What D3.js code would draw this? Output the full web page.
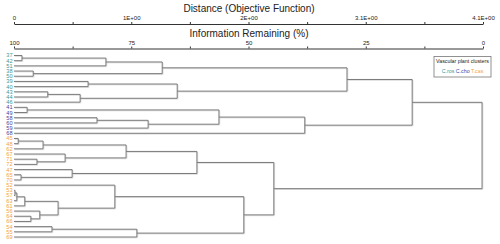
<!DOCTYPE html>
<html>
<head>
<meta charset="utf-8">
<script src="https://cdn.jsdelivr.net/npm/d3@7"></script>
<style>
  body { margin: 0; background: #fff; }
  text { font-family: "Liberation Sans", Arial, sans-serif; }
</style>
</head>
<body>
<svg id="chart" width="500" height="244"></svg>
<script>
// leaves, top to bottom
var leaves = ["37","42","51","38","50","39","40","43","44","46",
  "41","49","58","60","59","68",
  "45","48","62","67","71","72","47","65","70","52","53","57","63","61","56","64","66","54","55","69"];
var cRos = ["37","42","51","38","50","39","40","43","44","46"];
var cCho = ["41","49","58","60","59","68"];
var tCas = ["45","48","62","67","71","72","47","65","70","52","53","57","63","61","56","64","66","54","55","69"];

// merges: [left, right, information remaining %]
var merges = [
  ["37","42",98.3], ["m0","51",80.4], ["38","50",95.9], ["m1","m2",68.4],
  ["39","40",84.2], ["43","44",92.8], ["m5","46",85.9], ["m4","m6",65.2],
  ["m3","m7",29.0], ["41","49",97.2], ["58","60",82.3], ["m10","59",71.4],
  ["m9","m11",56.3], ["m12","68",38.0], ["m8","m13",15.1],
  ["45","48",99.1], ["m15","62",93.8], ["71","72",95.1], ["67","m17",89.1],
  ["m16","m18",76.1], ["65","70",98.5], ["47","m20",87.6], ["m19","m21",61.0],
  ["53","57",99.8], ["m23","63",99.4], ["m24","61",97.7], ["64","66",96.4],
  ["56","m26",94.5], ["m25","m27",90.6], ["52","m28",78.5], ["54","55",91.9],
  ["m30","69",73.8], ["m29","m31",51.0], ["m22","m32",44.6], ["m14","m33",0.2]
];

var distTicks = ["0","","1E+00","","2E+00","","3.1E+00","","4.1E+00"];
var infoTicks = ["100","","75","","50","","25","","0"];
var distMax = 4.1;

var svg = d3.select("#chart");
var x = d3.scaleLinear().domain([100, 0]).range([14, 483]);
var xd = d3.scaleLinear().domain([0, distMax]).range([14, 483]);
var y = d3.scalePoint().domain(leaves).range([55.5, 237]);

var color = function(l) {
  if (cRos.indexOf(l) >= 0) return "#3a9898";
  if (cCho.indexOf(l) >= 0) return "#45459f";
  return "#f2a43a";
};

// top axis: distance
var distAxis = d3.axisTop(xd)
  .tickValues(d3.range(9).map(function(i) { return i * distMax / 8; }))
  .tickSize(2).tickSizeOuter(0)
  .tickFormat(function(d, i) { return distTicks[i]; });
var ga = svg.append("g").attr("transform", "translate(0,24)").call(distAxis);

var infoAxis = d3.axisTop(x)
  .tickValues(d3.range(9).map(function(i) { return 100 - i * 12.5; }))
  .tickSize(2).tickSizeOuter(0)
  .tickFormat(function(d, i) { return infoTicks[i]; });
var gb = svg.append("g").attr("transform", "translate(0,48.5)").call(infoAxis);

[ga, gb].forEach(function(g) {
  g.select(".domain").attr("stroke", "#333");
  g.selectAll(".tick line").attr("stroke", "#333");
  g.selectAll(".tick text").attr("font-size", 6).attr("fill", "#222")
    .attr("y", -3.6).attr("dy", 0);
});

svg.append("text").attr("x", 249).attr("y", 12.3).attr("text-anchor", "middle")
  .attr("font-size", 10).attr("fill", "#222").text("Distance (Objective Function)");
svg.append("text").attr("x", 249).attr("y", 37).attr("text-anchor", "middle")
  .attr("font-size", 10).attr("fill", "#222").text("Information Remaining (%)");

// node positions
var pos = {};
leaves.forEach(function(l) { pos[l] = { x: x(100), y: y(l) }; });
merges.forEach(function(m, i) {
  var a = pos[m[0]], b = pos[m[1]], xm = x(m[2]);
  pos["m" + i] = { x: xm, y: (a.y + b.y) / 2, a: a, b: b };
});

var path = "";
merges.forEach(function(m, i) {
  var n = pos["m" + i];
  path += "M" + n.a.x + "," + n.a.y + "H" + n.x + "V" + n.b.y + "H" + n.b.x;
});
svg.append("path").attr("d", path).attr("fill", "none")
  .attr("stroke", "#dcdcdc").attr("stroke-width", 1).attr("transform", "translate(0.8,0.8)");
svg.append("path").attr("d", path).attr("fill", "none")
  .attr("stroke", "#7a7a7a").attr("stroke-width", 1);

svg.append("g").selectAll("text").data(leaves).enter().append("text")
  .attr("x", 12.5).attr("y", function(d) { return y(d); })
  .attr("dy", "0.35em").attr("text-anchor", "end")
  .attr("font-size", 5.6).attr("fill", color).text(function(d) { return d; });

// legend
var lg = svg.append("g").attr("transform", "translate(434,56.5)");
lg.append("rect").attr("width", 57).attr("height", 20.5)
  .attr("fill", "#fff").attr("stroke", "#777").attr("stroke-width", 0.8);
lg.append("text").attr("x", 28.5).attr("y", 6.8).attr("text-anchor", "middle")
  .attr("font-size", 5.3).attr("fill", "#222").text("Vascular plant clusters");
var lt = lg.append("text").attr("x", 28.5).attr("y", 16).attr("text-anchor", "middle")
  .attr("font-size", 5.3);
[["C.ros", "#3a9898"], ["C.cho", "#45459f"], ["T.cas", "#f2a43a"]].forEach(function(c, i) {
  lt.append("tspan").attr("fill", c[1]).text((i ? " " : "") + c[0]);
});
</script>
</body>
</html>
